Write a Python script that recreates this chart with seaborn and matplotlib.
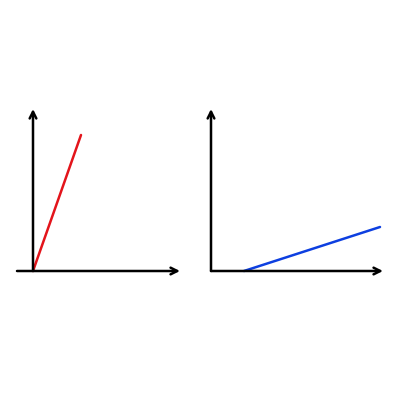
import numpy as np
import pandas as pd
import matplotlib
matplotlib.use('Agg')
import matplotlib.pyplot as plt
import seaborn as sns

# two lines, one per panel (units roughly = pixels from each panel's origin)
red_x = [0, 48]
red_y = [0, 136]
blue_x = [33, 169]
blue_y = [0, 44]

# axis arrow extents per panel: (x start, x end, y end)
left_axis = (-16, 147, 162)
right_axis = (0, 172, 162)

sns.set_style('white')
fig = plt.figure(figsize=(4, 4), dpi=100)

ax1 = fig.add_axes([0.025, 0.2975, 0.45, 0.45])
ax2 = fig.add_axes([0.5, 0.2975, 0.475, 0.45])

panels = [
    (ax1, red_x, red_y, '#e3141b', left_axis, (-23, 157)),
    (ax2, blue_x, blue_y, '#0d3fe0', right_axis, (-11, 179)),
]

for ax, xs, ys, col, (x0, x1, y1), xlim in panels:
    df = pd.DataFrame({'x': xs, 'y': ys})
    sns.lineplot(data=df, x='x', y='y', ax=ax, color=col, linewidth=1.8)
    # arrowed axes
    ax.annotate('', xy=(x1, 0), xytext=(x0, 0),
                arrowprops=dict(arrowstyle='->', lw=1.8, color='black',
                                shrinkA=0, shrinkB=0, mutation_scale=12))
    ax.annotate('', xy=(0, y1), xytext=(0, 0),
                arrowprops=dict(arrowstyle='->', lw=1.8, color='black',
                                shrinkA=0, shrinkB=0, mutation_scale=12))
    ax.set_xlim(*xlim)
    ax.set_ylim(-10, 170)
    ax.axis('off')

fig.savefig('out.png', dpi=100, facecolor='white')
